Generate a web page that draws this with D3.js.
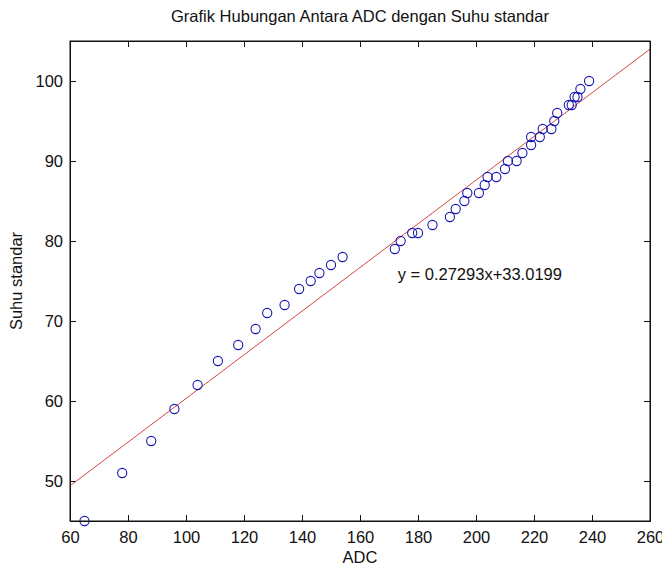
<!DOCTYPE html>
<html>
<head>
<meta charset="utf-8">
<script src="https://cdn.jsdelivr.net/npm/d3@7"></script>
<style>
  body { margin: 0; background: #fff; }
  text { font-family: "Liberation Sans", Arial, sans-serif; fill: #111; }
</style>
</head>
<body>
<div id="chart"></div>
<script>
// measured points (ADC reading vs standard temperature)
let adc = [65, 78, 88, 96, 104, 111, 118, 124, 128, 134, 139, 143, 146, 150, 154,
           172, 174, 178, 180, 185, 191, 193, 196, 197, 201, 203, 204, 207, 210, 211,
           214, 216, 219, 219, 222, 223, 226, 227, 228, 232, 233, 234, 235, 236, 239];
let suhu = [45, 51, 55, 59, 62, 65, 67, 69, 71, 72, 74, 75, 76, 77, 78,
            79, 80, 81, 81, 82, 83, 84, 85, 86, 86, 87, 88, 88, 89, 90,
            90, 91, 92, 93, 93, 94, 94, 95, 96, 97, 97, 98, 98, 99, 100];

// fit line from the label on the chart
let fitSlope = 0.27293, fitIntercept = 33.0199;
let fitRange = [60, 260];

let xTicks = [60, 80, 100, 120, 140, 160, 180, 200, 220, 240, 260];
let yTicks = [50, 60, 70, 80, 90, 100];

let titleText = "Grafik Hubungan Antara ADC dengan Suhu standar";
let xLabel = "ADC", yLabel = "Suhu standar";
let eqText = "y = 0.27293x+33.0199";

let margin = {top: 41, right: 12, bottom: 46, left: 70},
    W = 662, H = 567,
    width = W - margin.left - margin.right,
    height = H - margin.top - margin.bottom;

let xScale = d3.scaleLinear().domain([60, 260]).range([0, width]);
let yScale = d3.scaleLinear().domain([45, 105]).range([height, 0]);

let svg = d3.select("#chart").append("svg")
    .attr("width", W)
    .attr("height", H)
  .append("g")
    .attr("transform", "translate(" + margin.left + "," + margin.top + ")");

let fs = 16.5;

// axes, ticks pointing inward like matlab
let xAxis = d3.axisBottom(xScale).tickValues(xTicks).tickSizeInner(-6).tickSizeOuter(0).tickPadding(10);
let xTop = d3.axisTop(xScale).tickValues(xTicks).tickSizeInner(-6).tickSizeOuter(0).tickFormat("");
let yAxis = d3.axisLeft(yScale).tickValues(yTicks).tickSizeInner(-6).tickSizeOuter(0).tickPadding(7);
let yRight = d3.axisRight(yScale).tickValues(yTicks).tickSizeInner(-6).tickSizeOuter(0).tickFormat("");

svg.append("g").attr("class", "axis").attr("transform", "translate(0," + height + ")").call(xAxis);
svg.append("g").attr("class", "axis").call(xTop);
svg.append("g").attr("class", "axis").call(yAxis);
svg.append("g").attr("class", "axis").attr("transform", "translate(" + width + ",0)").call(yRight);

svg.selectAll(".axis path, .axis line").attr("stroke", "#111").attr("stroke-width", 1);
svg.selectAll(".axis text").style("font-size", fs + "px").attr("fill", "#111")
   .style("font-family", "'Liberation Sans', Arial, sans-serif");

// fitted line
let line = d3.line()
  .x(function(d) { return xScale(d); })
  .y(function(d) { return yScale(fitSlope * d + fitIntercept); });

svg.append("path")
  .datum(fitRange)
  .attr("d", line)
  .attr("fill", "none")
  .attr("stroke", "#d04a40")
  .attr("stroke-width", 1);

// data circles
svg.selectAll(".pt")
  .data(d3.range(adc.length))
  .enter().append("circle")
  .attr("class", "pt")
  .attr("cx", function(i) { return xScale(adc[i]); })
  .attr("cy", function(i) { return yScale(suhu[i]); })
  .attr("r", 4.6)
  .attr("fill", "none")
  .attr("stroke", "#1818b0")
  .attr("stroke-width", 1.1);

// equation label
svg.append("text")
  .attr("x", xScale(173))
  .attr("y", yScale(75.1))
  .style("font-size", fs + "px")
  .text(eqText);

// box outline
svg.append("rect")
  .attr("width", width).attr("height", height)
  .attr("fill", "none").attr("stroke", "#111").attr("stroke-width", 1);

// title + axis labels
svg.append("text")
  .attr("x", width / 2)
  .attr("y", -19)
  .style("text-anchor", "middle")
  .style("font-size", fs + "px")
  .text(titleText);

svg.append("text")
  .attr("x", width / 2)
  .attr("y", height + 42)
  .style("text-anchor", "middle")
  .style("font-size", fs + "px")
  .text(xLabel);

svg.append("text")
  .attr("transform", "rotate(-90)")
  .attr("x", -height / 2)
  .attr("y", -48)
  .style("text-anchor", "middle")
  .style("font-size", fs + "px")
  .text(yLabel);
</script>
</body>
</html>
